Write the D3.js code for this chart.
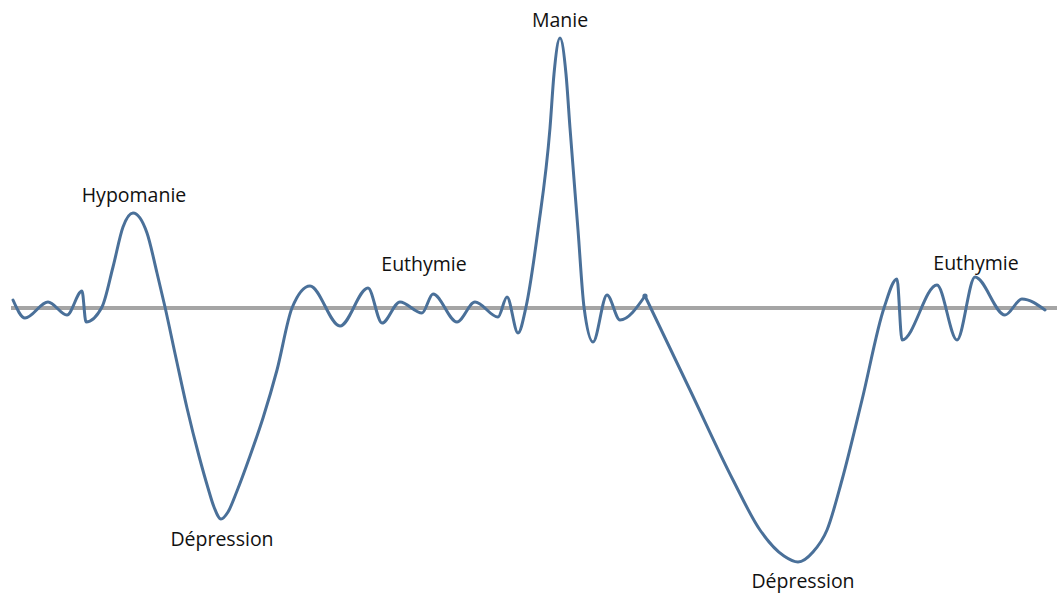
<!DOCTYPE html>
<html>
<head>
<meta charset="utf-8">
<script src="https://cdn.jsdelivr.net/npm/d3@7"></script>
<style>
  html, body { margin: 0; padding: 0; background: #ffffff; }
  svg { display: block; }
</style>
</head>
<body>
<svg id="chart" width="1057" height="593"></svg>
<script>
// Time positions along the curve (arbitrary time units)
const times = [13, 25, 48, 67, 82, 86, 102, 113, 123, 133, 147, 157, 165,
  176, 187, 199, 208, 214, 221, 228, 237, 250, 263, 277,
  292, 310, 340, 368, 382, 400, 422, 433, 457, 475, 498, 507, 518,
  526, 538, 550, 554, 560, 566, 570, 578, 584, 593, 607, 620, 645,
  690, 733, 760, 784, 798, 813, 827, 842, 862, 884,
  897, 902, 937, 957, 975, 1005, 1022, 1045];
// Mood level (0 = euthymic baseline, positive = elevated, negative = depressed)
const mood = [8, -10, 6, -7, 17, -14, 1, 41, 81, 95, 75, 35, 1,
  -50, -100, -148, -180, -199, -211, -204, -183, -148, -110, -62,
  0, 22, -18, 20, -15, 6, -5, 14, -14, 6, -9, 11, -25,
  1, 78, 180, 234, 270, 234, 180, 78, 1, -34, 13, -12, 12,
  -82, -172, -222, -248, -254, -244, -222, -172, -92, 0,
  29, -32, 23, -32, 31, -7, 9, -2];
// The drawn curve is made of two strokes joined at this time
const joinTime = 645;

// Phase labels
const labelTexts = ["Hypomanie", "Dépression", "Euthymie", "Manie", "Euthymie", "Dépression"];
const labelTimes = [134, 222, 424, 560, 976, 803];
const labelMood = [106, -238, 37, 281, 38, -280];

// Baseline extent
const baselineExtent = [11, 1057];

const svg = d3.select("#chart");

const x = d3.scaleLinear().domain([0, 1057]).range([0, 1057]);
const y = d3.scaleLinear().domain([-300, 300]).range([608, 8]);

// Baseline
svg.append("line")
  .attr("x1", x(baselineExtent[0]))
  .attr("x2", x(baselineExtent[1]))
  .attr("y1", y(0))
  .attr("y2", y(0))
  .attr("stroke", "#a5a5a5")
  .attr("stroke-width", 4);

const data = times.map((t, i) => ({ t, v: mood[i] }));
const segments = [data.filter(d => d.t <= joinTime), data.filter(d => d.t >= joinTime)];

const line = d3.line()
  .x(d => x(d.t))
  .y(d => y(d.v))
  .curve(d3.curveMonotoneX);

svg.selectAll("path.mood")
  .data(segments)
  .join("path")
  .attr("class", "mood")
  .attr("d", line)
  .attr("fill", "none")
  .attr("stroke", "#4a7099")
  .attr("stroke-width", 3)
  .attr("stroke-linejoin", "round")
  .attr("stroke-linecap", "round");

// small join dot
const jd = data.find(d => d.t === joinTime);
svg.append("circle")
  .attr("cx", x(jd.t))
  .attr("cy", y(jd.v))
  .attr("r", 2.6)
  .attr("fill", "#4a7099");

svg.selectAll("text.label")
  .data(labelTexts)
  .join("text")
  .attr("class", "label")
  .attr("x", (d, i) => x(labelTimes[i]))
  .attr("y", (d, i) => y(labelMood[i]))
  .attr("text-anchor", "middle")
  .attr("font-family", "'Open Sans', sans-serif")
  .attr("font-size", 19.5)
  .attr("fill", "#111111")
  .text(d => d);
</script>
</body>
</html>
